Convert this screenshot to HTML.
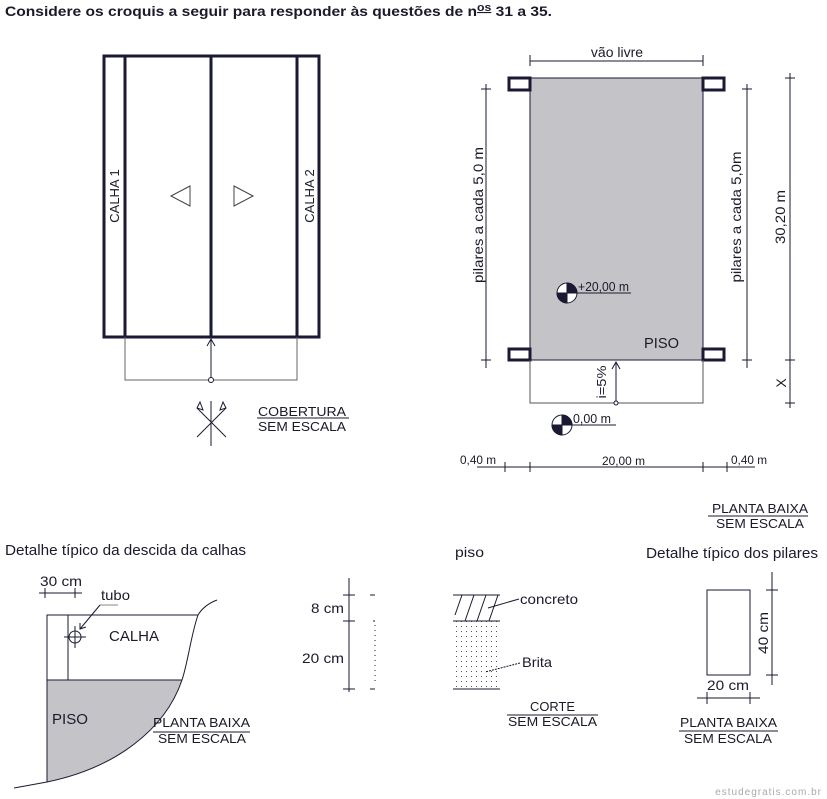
<!DOCTYPE html>
<html><head><meta charset="utf-8"><style>
body{margin:0;background:#fff}
svg{display:block;font-family:"Liberation Sans",Arial,sans-serif}
text{fill:#1a1a2a}
</style></head><body>
<svg width="827" height="799" viewBox="0 0 827 799" xmlns="http://www.w3.org/2000/svg">
<defs>
<pattern id="dots" width="5" height="5" patternUnits="userSpaceOnUse"><rect x="1" y="1" width="1" height="1" fill="#555"/></pattern>
</defs>
<text x="5" y="16" font-size="14" font-weight="bold" textLength="547" lengthAdjust="spacingAndGlyphs">Considere os croquis a seguir para responder às questões de n<tspan font-size="11" dy="-5" text-decoration="underline">os</tspan><tspan dy="5"> 31 a 35.</tspan></text>

<!-- roof -->
<g stroke="#1a1a33" fill="none">
<rect x="104" y="56" width="215" height="281" stroke-width="3"/>
<line x1="125" y1="56" x2="125" y2="337" stroke-width="3"/>
<line x1="211" y1="56" x2="211" y2="337" stroke-width="3"/>
<line x1="297" y1="56" x2="297" y2="337" stroke-width="3"/>
<polyline points="125,337 125,380 297,380 297,337" stroke-width="1" stroke="#666"/>
<line x1="211" y1="380" x2="211" y2="339" stroke-width="1"/>
<polyline points="207,346 211,339 215,346" stroke-width="1"/>
<circle cx="211" cy="380" r="2.5" fill="#fff" stroke-width="1"/>
<polygon points="171,196 190,186 190,206" stroke-width="1" stroke="#444"/>
<polygon points="253,196 234,186 234,206" stroke-width="1" stroke="#444"/>
<g stroke-width="1"><line x1="211" y1="401" x2="211" y2="446"/><line x1="197" y1="408" x2="226" y2="437"/><line x1="226" y1="408" x2="197" y2="437"/>
<polygon points="197,408 200,402 203,410"/><polygon points="226,408 223,402 220,410"/></g>
<line x1="257" y1="418" x2="349" y2="418" stroke-width="1"/>
</g>
<text transform="translate(119,196) rotate(-90)" font-size="13" text-anchor="middle">CALHA 1</text>
<text transform="translate(314,196) rotate(-90)" font-size="13" text-anchor="middle">CALHA 2</text>
<text x="258" y="416" font-size="13" textLength="88" lengthAdjust="spacingAndGlyphs">COBERTURA</text>
<text x="258" y="431" font-size="13" textLength="88" lengthAdjust="spacingAndGlyphs">SEM ESCALA</text>

<!-- plan -->
<g stroke="#1a1a33" fill="none" stroke-width="1">
<rect x="530" y="78" width="173" height="282" fill="#c4c4c8"/>
<rect x="509" y="78" width="21" height="12" stroke-width="3" fill="#fff"/>
<rect x="703" y="78" width="21" height="12" stroke-width="3" fill="#fff"/>
<rect x="509" y="349" width="21" height="11" stroke-width="3" fill="#fff"/>
<rect x="703" y="349" width="21" height="11" stroke-width="3" fill="#fff"/>
<polyline points="530,360 530,403 703,403 703,360" stroke="#555"/>
<line x1="616" y1="403" x2="616" y2="362"/><polyline points="612,369 616,362 620,369"/>
<circle cx="616" cy="403" r="2" fill="#fff"/>
<line x1="530" y1="61" x2="703" y2="61"/><line x1="530" y1="55" x2="530" y2="66"/><line x1="703" y1="55" x2="703" y2="66"/>
<line x1="486" y1="84" x2="486" y2="368"/><line x1="481" y1="89" x2="491" y2="89"/><line x1="481" y1="360" x2="491" y2="360"/>
<line x1="747" y1="84" x2="747" y2="368"/><line x1="742" y1="89" x2="752" y2="89"/><line x1="742" y1="360" x2="752" y2="360"/>
<line x1="790" y1="73" x2="790" y2="408"/><line x1="785" y1="78" x2="795" y2="78"/><line x1="785" y1="360" x2="795" y2="360"/><line x1="785" y1="403" x2="795" y2="403"/>
<line x1="477" y1="467" x2="755" y2="467"/>
<line x1="505" y1="462" x2="505" y2="472"/><line x1="530" y1="462" x2="530" y2="472"/><line x1="703" y1="462" x2="703" y2="472"/><line x1="727" y1="462" x2="727" y2="472"/>
<line x1="577" y1="293" x2="631" y2="293"/>
<line x1="572" y1="425" x2="616" y2="425"/>
<line x1="708" y1="516" x2="808" y2="516"/>
</g>
<g stroke="#1a1a33" stroke-width="1">
<circle cx="567" cy="293" r="10" fill="#fff"/>
<path d="M567,293 L567,283 A10,10 0 0 1 577,293 Z M567,293 L567,303 A10,10 0 0 1 557,293 Z" fill="#1a1a33"/>
<circle cx="562" cy="425" r="10" fill="#fff"/>
<path d="M562,425 L562,415 A10,10 0 0 1 572,425 Z M562,425 L562,435 A10,10 0 0 1 552,425 Z" fill="#1a1a33"/>
</g>
<text x="617" y="57" font-size="14" text-anchor="middle">vão livre</text>
<text transform="translate(483,215) rotate(-90)" font-size="14" text-anchor="middle" textLength="136" lengthAdjust="spacingAndGlyphs">pilares a cada 5,0 m</text>
<text transform="translate(741,217) rotate(-90)" font-size="14" text-anchor="middle" textLength="131" lengthAdjust="spacingAndGlyphs">pilares a cada 5,0m</text>
<text transform="translate(785,217) rotate(-90)" font-size="14" text-anchor="middle" textLength="54" lengthAdjust="spacingAndGlyphs">30,20 m</text>
<text transform="translate(786,383) rotate(-90)" font-size="14" text-anchor="middle">X</text>
<text transform="translate(606,382) rotate(-90)" font-size="13" text-anchor="middle" textLength="33" lengthAdjust="spacingAndGlyphs">i=5%</text>
<text x="578" y="291" font-size="13" textLength="51" lengthAdjust="spacingAndGlyphs">+20,00 m</text>
<text x="644" y="348" font-size="15" textLength="35" lengthAdjust="spacingAndGlyphs">PISO</text>
<text x="573" y="423" font-size="13" textLength="38" lengthAdjust="spacingAndGlyphs">0,00 m</text>
<text x="460" y="464" font-size="12" textLength="36" lengthAdjust="spacingAndGlyphs">0,40 m</text>
<text x="602" y="465" font-size="12" textLength="43" lengthAdjust="spacingAndGlyphs">20,00 m</text>
<text x="731" y="464" font-size="12" textLength="36" lengthAdjust="spacingAndGlyphs">0,40 m</text>
<text x="712" y="513" font-size="13" textLength="96" lengthAdjust="spacingAndGlyphs">PLANTA BAIXA</text>
<text x="716" y="528" font-size="13" textLength="88" lengthAdjust="spacingAndGlyphs">SEM ESCALA</text>

<!-- calha detail -->
<text x="5" y="555" font-size="15" textLength="241" lengthAdjust="spacingAndGlyphs">Detalhe típico da descida da calhas</text>
<text x="40" y="586" font-size="14" textLength="42" lengthAdjust="spacingAndGlyphs">30 cm</text>
<g stroke="#1a1a33" fill="none" stroke-width="1">
<line x1="39" y1="593" x2="82" y2="593"/><line x1="45" y1="588" x2="45" y2="598"/><line x1="75" y1="588" x2="75" y2="598"/>
<path d="M47,680 L182,680 C165,730 115,768 47,782 Z" fill="#c4c4c8" stroke="none"/>
<path d="M217,600 Q204,605 198,615 C191,635 188,662 182,680 C165,730 115,768 47,782 L14,788"/>
<polyline points="198,615 47,615 47,782"/>
<line x1="47" y1="680" x2="182" y2="680"/>
<line x1="68" y1="615" x2="68" y2="680"/>
<circle cx="75" cy="637" r="6"/>
<line x1="64" y1="637" x2="86" y2="637"/><line x1="75" y1="626" x2="75" y2="648"/>
<line x1="118" y1="605" x2="100" y2="605" stroke="#888"/>
<line x1="100" y1="605" x2="80" y2="629"/><polyline points="80,623 80,629 86,627"/>
<line x1="153" y1="732" x2="250" y2="732"/>
</g>
<text x="101" y="600" font-size="14" textLength="29" lengthAdjust="spacingAndGlyphs">tubo</text>
<text x="109" y="641" font-size="15" textLength="50" lengthAdjust="spacingAndGlyphs">CALHA</text>
<text x="52" y="724" font-size="15" textLength="36" lengthAdjust="spacingAndGlyphs">PISO</text>
<text x="153" y="727" font-size="13" textLength="97" lengthAdjust="spacingAndGlyphs">PLANTA BAIXA</text>
<text x="158" y="743" font-size="13" textLength="88" lengthAdjust="spacingAndGlyphs">SEM ESCALA</text>

<!-- piso -->
<text x="455" y="557" font-size="14" textLength="29" lengthAdjust="spacingAndGlyphs">piso</text>
<g stroke="#1a1a33" fill="none" stroke-width="1">
<line x1="349" y1="578" x2="349" y2="692"/>
<line x1="343" y1="595" x2="355" y2="595"/><line x1="343" y1="621" x2="355" y2="621"/><line x1="343" y1="689" x2="355" y2="689"/>
<line x1="370" y1="595" x2="375" y2="595"/><line x1="373" y1="621" x2="375" y2="621"/><line x1="370" y1="689" x2="375" y2="689"/>
<line x1="375" y1="625" x2="375" y2="685" stroke-dasharray="1,4"/>
<rect x="453" y="621" width="47" height="68" fill="url(#dots)" stroke="none"/>
<line x1="453" y1="595" x2="500" y2="595"/><line x1="453" y1="621" x2="500" y2="621"/><line x1="453" y1="689" x2="500" y2="689"/>
<line x1="462" y1="595" x2="455" y2="615"/><line x1="474" y1="595" x2="465" y2="621"/><line x1="486" y1="595" x2="477" y2="621"/><line x1="498" y1="595" x2="489" y2="621"/>
<line x1="519" y1="599" x2="488" y2="608"/>
<line x1="520" y1="663" x2="485" y2="672" stroke-dasharray="2,1"/>
<line x1="507" y1="715" x2="598" y2="715"/>
</g>
<text x="311" y="613" font-size="14" textLength="33" lengthAdjust="spacingAndGlyphs">8 cm</text>
<text x="302" y="663" font-size="14" textLength="42" lengthAdjust="spacingAndGlyphs">20 cm</text>
<text x="520" y="604" font-size="14" textLength="58" lengthAdjust="spacingAndGlyphs">concreto</text>
<text x="522" y="667" font-size="14" textLength="30" lengthAdjust="spacingAndGlyphs">Brita</text>
<text x="530" y="711" font-size="13" textLength="45" lengthAdjust="spacingAndGlyphs">CORTE</text>
<text x="508" y="726" font-size="13" textLength="89" lengthAdjust="spacingAndGlyphs">SEM ESCALA</text>

<!-- pilares -->
<text x="646" y="558" font-size="15" textLength="172" lengthAdjust="spacingAndGlyphs">Detalhe típico dos pilares</text>
<g stroke="#1a1a33" fill="none" stroke-width="1">
<rect x="707" y="590" width="43" height="85"/>
<line x1="772" y1="572" x2="772" y2="685"/><line x1="766" y1="590" x2="778" y2="590"/><line x1="766" y1="675" x2="778" y2="675"/>
<line x1="697" y1="698" x2="760" y2="698"/><line x1="707" y1="692" x2="707" y2="704"/><line x1="750" y1="692" x2="750" y2="704"/>
<line x1="679" y1="731" x2="778" y2="731"/>
</g>
<text transform="translate(768,633) rotate(-90)" font-size="14" text-anchor="middle" textLength="42" lengthAdjust="spacingAndGlyphs">40 cm</text>
<text x="707" y="690" font-size="14" textLength="42" lengthAdjust="spacingAndGlyphs">20 cm</text>
<text x="680" y="727" font-size="13" textLength="97" lengthAdjust="spacingAndGlyphs">PLANTA BAIXA</text>
<text x="684" y="743" font-size="13" textLength="88" lengthAdjust="spacingAndGlyphs">SEM ESCALA</text>
<text x="822" y="795" font-size="10" text-anchor="end" style="fill:#aaa" letter-spacing="1">estudegratis.com.br</text>
</svg>
</body></html>
